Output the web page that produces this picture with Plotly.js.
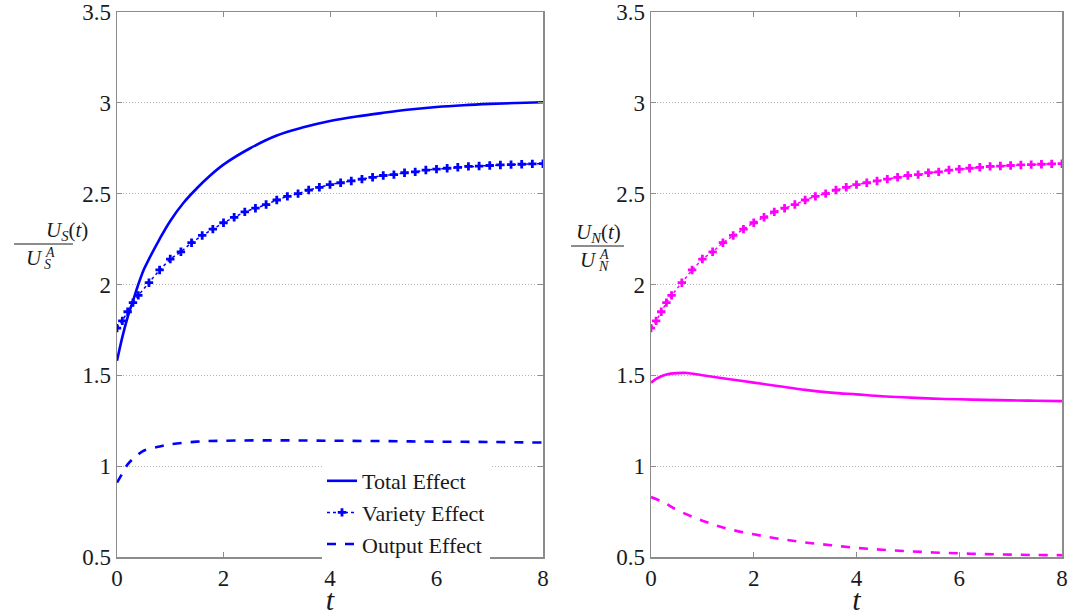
<!DOCTYPE html>
<html>
<head>
<meta charset="utf-8">
<script src="https://cdn.plot.ly/plotly-3.0.1.min.js"></script>
<style>html,body{margin:0;padding:0;background:#fff;}#chart{width:1073px;height:616px;}</style>
</head>
<body>
<div id="chart"></div>
<script>
// ---- data ----
const tVariety = [0,0.1,0.2,0.3,0.4,0.6,0.8,1.0,1.2,1.4,1.6,1.8,2.0,2.2,2.4,2.6,2.8,3.0,3.2,3.4,3.6,3.8,4.0,4.2,4.4,4.6,4.8,5.0,5.2,5.4,5.6,5.8,6.0,6.2,6.4,6.6,6.8,7.0,7.2,7.4,7.6,7.8,8.0];
const varietyS = [1.76,1.80,1.85,1.90,1.94,2.01,2.08,2.14,2.18,2.23,2.27,2.305,2.34,2.37,2.40,2.42,2.44,2.465,2.485,2.50,2.52,2.535,2.55,2.56,2.57,2.58,2.59,2.60,2.605,2.615,2.62,2.63,2.635,2.64,2.645,2.65,2.652,2.655,2.658,2.66,2.662,2.664,2.665];
const varietyN = [1.76,1.80,1.85,1.90,1.94,2.01,2.08,2.14,2.18,2.23,2.27,2.305,2.34,2.37,2.40,2.42,2.44,2.465,2.485,2.50,2.52,2.535,2.55,2.56,2.57,2.58,2.59,2.60,2.605,2.615,2.62,2.63,2.635,2.64,2.645,2.65,2.652,2.655,2.658,2.66,2.662,2.664,2.665];

const tTotalS = [0,0.1,0.2,0.3,0.4,0.5,0.6,0.8,1.0,1.25,1.5,1.75,2.0,2.5,3.0,3.5,4.0,4.5,5.0,5.5,6.0,6.5,7.0,7.5,8.0];
const totalS  = [1.58,1.71,1.82,1.91,2.00,2.08,2.14,2.25,2.35,2.45,2.53,2.60,2.66,2.75,2.82,2.865,2.90,2.925,2.945,2.963,2.977,2.987,2.994,2.999,3.003];

const tOutputS = [0,0.1,0.2,0.3,0.4,0.5,0.75,1.0,1.5,2.0,3.0,4.0,5.0,6.0,7.0,8.0];
const outputS  = [0.91,0.96,1.01,1.04,1.065,1.085,1.105,1.12,1.135,1.14,1.142,1.14,1.138,1.135,1.133,1.13];

const tTotalN = [0,0.1,0.2,0.3,0.5,0.7,1.0,1.5,2.0,2.5,3.0,3.5,4.0,4.5,5.0,5.5,6.0,6.5,7.0,7.5,8.0];
const totalN  = [1.46,1.48,1.495,1.505,1.512,1.513,1.50,1.48,1.46,1.44,1.42,1.405,1.395,1.385,1.378,1.372,1.368,1.365,1.362,1.36,1.358];

const tOutputN = [0,0.25,0.5,1.0,1.5,2.0,2.5,3.0,3.5,4.0,4.5,5.0,5.5,6.0,6.5,7.0,7.5,8.0];
const outputN  = [0.83,0.80,0.76,0.70,0.655,0.625,0.60,0.58,0.565,0.55,0.54,0.532,0.525,0.52,0.516,0.513,0.511,0.51];

const seriesNames = ["Total Effect","Variety Effect","Output Effect"];
const xTicks = [0,2,4,6,8];
const yTicks = [0.5,1,1.5,2,2.5,3,3.5];
const yTickText = ["0.5","1","1.5","2","2.5","3","3.5"];

// ---- styling ----
const BLUE = "#0000ff", MAG = "#ff00ff";
const FONT = "Liberation Serif";
const INK = "#1a1a1a";

function traceSet(tT, tot, tV, varr, tO, out, color, xa, ya, showLeg){
  return [
    {x:tT, y:tot, name:seriesNames[0], mode:"lines", line:{color:color,width:2.6,shape:"spline"},
     xaxis:xa, yaxis:ya, showlegend:showLeg},
    {x:tV, y:varr, name:seriesNames[1], mode:"lines+markers",
     line:{color:color,width:1.5,dash:"dot"},
     marker:{symbol:"cross",size:7,color:color},
     xaxis:xa, yaxis:ya, showlegend:showLeg},
    {x:tO, y:out, name:seriesNames[2], mode:"lines", line:{color:color,width:2.6,dash:"dash",shape:"spline"},
     xaxis:xa, yaxis:ya, showlegend:showLeg}
  ];
}

const data = [].concat(
  traceSet(tTotalS,totalS,tVariety,varietyS,tOutputS,outputS,BLUE,"x","y",true),
  traceSet(tTotalN,totalN,tVariety,varietyN,tOutputN,outputN,MAG,"x2","y2",false)
);

const W=1073,H=616;
const xAxisBase = {
  range:[0,8], tickvals:xTicks, ticktext:xTicks.map(String),
  showline:true, mirror:"ticks", linecolor:"#8c8c8c", linewidth:1.5,
  ticks:"inside", ticklen:5, tickcolor:"#8c8c8c",
  showgrid:false, zeroline:false, ticklabeloverflow:"allow",
  tickfont:{family:FONT,size:23,color:INK},
  title:{text:"<i>t</i>", font:{family:FONT,size:30,color:INK}, standoff:0}
};
const yAxisBase = {
  range:[0.5,3.5], tickvals:yTicks, ticktext:yTickText,
  showline:true, mirror:"ticks", linecolor:"#8c8c8c", linewidth:1.5,
  ticks:"inside", ticklen:5, tickcolor:"#8c8c8c",
  showgrid:true, gridcolor:"#b4b4b4", griddash:"1px,2px", gridwidth:1,
  zeroline:false, ticklabeloverflow:"allow",
  tickfont:{family:FONT,size:23,color:INK}
};

const yTop = 1-12/H, yBot = 1-557/H;

// y-axis fraction labels
function fracLabel(cx, lineY, sub, x0, x1){
  const f = {family:FONT,size:21,color:INK};
  const fs = {family:FONT,size:14,color:INK};
  return {
    ann:[
      {xref:"paper",yref:"paper",x:cx/W,y:1-(lineY-13)/H,showarrow:false,
       text:"<i>U</i><sub><i>"+sub+"</i></sub>(<i>t</i>)",font:f},
      {xref:"paper",yref:"paper",x:(cx+1)/W,y:1-(lineY+14)/H,showarrow:false,xanchor:"right",
       text:"<i>U</i>",font:f},
      {xref:"paper",yref:"paper",x:(cx-1)/W,y:1-(lineY+8)/H,showarrow:false,xanchor:"left",
       text:"<i>A</i>",font:fs},
      {xref:"paper",yref:"paper",x:(cx-2)/W,y:1-(lineY+20)/H,showarrow:false,xanchor:"left",
       text:"<i>"+sub+"</i>",font:fs}
    ],
    shape:{type:"line",xref:"paper",yref:"paper",x0:x0/W,x1:x1/W,y0:1-lineY/H,y1:1-lineY/H,
           line:{color:INK,width:1}}
  };
}
const fS = fracLabel(44, 244, "S", 14, 73);
const fN = fracLabel(598, 246, "N", 571, 624);

const layout = {
  width:W, height:H,
  margin:{l:0,r:0,t:0,b:0,pad:0},
  paper_bgcolor:"#fff", plot_bgcolor:"#fff",
  font:{family:FONT,color:INK},
  xaxis:Object.assign({}, xAxisBase, {domain:[117/W,543/W], anchor:"y"}),
  yaxis:Object.assign({}, yAxisBase, {domain:[yBot,yTop], anchor:"x"}),
  xaxis2:Object.assign({}, xAxisBase, {domain:[651/W,1062/W], anchor:"y2"}),
  yaxis2:Object.assign({}, yAxisBase, {domain:[yBot,yTop], anchor:"x2"}),
  legend:{x:322/W, y:1-460/H, xanchor:"left", yanchor:"top",
          bgcolor:"#ffffff", borderwidth:0,
          font:{family:FONT,size:22,color:INK}, tracegroupgap:0},
  showlegend:true,
  annotations:[].concat(fS.ann, fN.ann),
  shapes:[fS.shape, fN.shape]
};

Plotly.newPlot("chart", data, layout, {staticPlot:true, displayModeBar:false});
</script>
</body>
</html>
